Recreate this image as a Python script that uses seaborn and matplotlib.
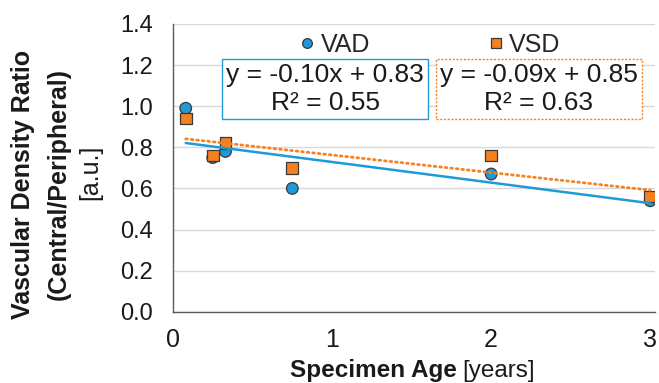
import numpy as np
import pandas as pd
import matplotlib
matplotlib.use("Agg")
import matplotlib.pyplot as plt
import seaborn as sns
from matplotlib.ticker import MultipleLocator, FixedLocator
from matplotlib.lines import Line2D

# ---- data ----
age = [0.08, 0.25, 0.33, 0.75, 2.0, 3.0]
vad = [0.99, 0.75, 0.78, 0.60, 0.67, 0.54]
vsd = [0.94, 0.76, 0.82, 0.70, 0.76, 0.56]
series_names = ["VAD", "VSD"]
eq_labels = ["y = -0.10x + 0.83\nR² = 0.55", "y = -0.09x + 0.85\nR² = 0.63"]
yticks = [0.0, 0.2, 0.4, 0.6, 0.8, 1.0, 1.2, 1.4]
xticks = [0, 1, 2, 3]

sns.set_style("white")
plt.rcParams["font.family"] = ["Liberation Sans", "DejaVu Sans"]

blue = "#1E9AD6"
orange = "#F7801F"
edge = "#3A3A3A"
txt = "#1A1A1A"

df = pd.DataFrame({
    "age": age * 2,
    "ratio": vad + vsd,
    "series": [series_names[0]] * len(age) + [series_names[1]] * len(age),
})

fig = plt.figure(figsize=(6.59, 3.83), dpi=100)
ax = fig.add_axes([173 / 659, 1 - 311.7 / 383, 482 / 659, (311.7 - 24) / 383])

sns.scatterplot(data=df, x="age", y="ratio", hue="series", style="series",
                markers={"VAD": "o", "VSD": "s"},
                palette={"VAD": blue, "VSD": orange},
                s=70, edgecolor=edge, linewidth=0.9, ax=ax, zorder=3, legend=False)

sns.regplot(x=age, y=vad, scatter=False, ci=None, truncate=True, ax=ax,
            line_kws=dict(color=blue, lw=1.8, zorder=4))
sns.regplot(x=age, y=vsd, scatter=False, ci=None, truncate=True, ax=ax,
            line_kws=dict(color=orange, lw=2.0, ls=(0, (0.6, 1.4)),
                          dash_capstyle="round", zorder=5))

ax.set_xlim(0, 3.03)
ax.set_ylim(0, 1.4)
ax.yaxis.set_major_locator(FixedLocator(yticks))
ax.set_yticklabels([f"{v:.1f}" for v in yticks])
ax.xaxis.set_major_locator(FixedLocator(xticks))
ax.xaxis.set_minor_locator(MultipleLocator(0.5))
ax.set_xticklabels([str(v) for v in xticks])
ax.grid(axis="y", color="#D9D9D9", lw=1.0, zorder=0)
ax.set_axisbelow(True)
sns.despine(ax=ax)
for sp in ["left", "bottom"]:
    ax.spines[sp].set_color("#595959")
    ax.spines[sp].set_linewidth(1.0)
ax.tick_params(axis="both", which="both", direction="out", length=5.5, width=1,
               color="#595959", labelcolor=txt)
ax.tick_params(axis="y", labelsize=17, pad=9)
ax.tick_params(axis="x", labelsize=18, pad=6)
ax.set_xlabel("")
ax.set_ylabel("")

# legend
handles = [Line2D([], [], marker="o", ls="", color=blue, markeredgecolor=edge,
                  markersize=7, markeredgewidth=0.9),
           Line2D([], [], marker="s", ls="", color=orange, markeredgecolor=edge,
                  markersize=7, markeredgewidth=0.9)]
leg = fig.legend(handles, series_names, loc="center", ncol=2,
                 bbox_to_anchor=(429 / 659, 1 - 45 / 383), frameon=False,
                 fontsize=18, handletextpad=0.15, columnspacing=4.6,
                 handlelength=0.8, borderpad=0)

# equation boxes
box_y = 1.084
ax.text(0.956, box_y, eq_labels[0], ha="center", va="center",
        fontsize=19, color=txt, linespacing=1.2,
        bbox=dict(boxstyle="square,pad=0.15", fc="white", ec=blue, lw=1.0),
        zorder=6)
ax.text(2.30, box_y, eq_labels[1], ha="center", va="center",
        fontsize=19, color=txt, linespacing=1.2,
        bbox=dict(boxstyle="square,pad=0.15", fc="white", ec=orange, lw=1.0,
                  ls=(0, (1.5, 1.2))),
        zorder=6)

# axis labels
fig.text(457 / 659, 1 - 371 / 383, "Specimen Age", ha="right", va="center",
         fontsize=17.5, fontweight="bold", color=txt)
fig.text(462 / 659, 1 - 371 / 383, "[years]", ha="left", va="center",
         fontsize=17.5, color=txt)
ycen = 1 - 184 / 383
fig.text(23 / 659, ycen, "Vascular Density Ratio", rotation=90, ha="center",
         va="center", fontsize=18, fontweight="bold", color=txt)
fig.text(59 / 659, ycen, "(Central/Peripheral)", rotation=90, ha="center",
         va="center", fontsize=18, fontweight="bold", color=txt)
fig.text(90 / 659, 1 - 172 / 383, "[a.u.]", rotation=90, ha="center",
         va="center", fontsize=18, color=txt)

fig.savefig("out.png", dpi=100)
